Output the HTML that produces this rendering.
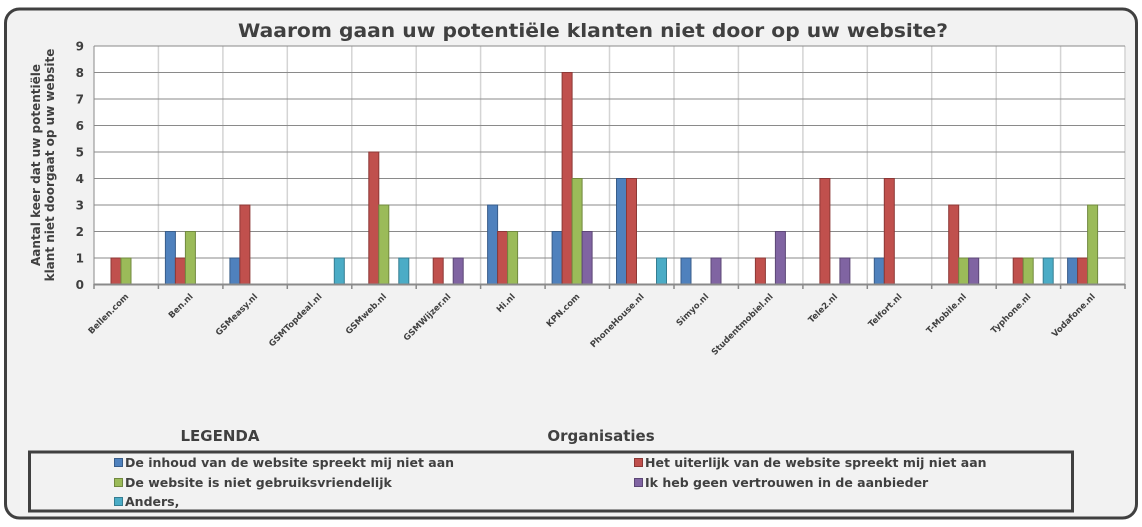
<!DOCTYPE html>
<html><head><meta charset="utf-8"><style>
html,body{margin:0;padding:0;background:#fff;}
svg{display:block;font-family:"DejaVu Sans","Liberation Sans",sans-serif;}
</style></head><body>
<svg width="1142" height="527" viewBox="0 0 1142 527" xmlns="http://www.w3.org/2000/svg">
<rect x="5.5" y="9" width="1131" height="509" rx="14" fill="#f2f2f2" stroke="#404040" stroke-width="3"/>
<text x="593" y="37" text-anchor="middle" font-size="19" font-weight="bold" fill="#404040" textLength="710" lengthAdjust="spacingAndGlyphs">Waarom gaan uw potentiële klanten niet door op uw website?</text>
<rect x="94" y="46" width="1031" height="238.5" fill="#fff"/>
<g stroke="#d4d4d4" stroke-width="1.5">
<line x1="158.4" y1="46" x2="158.4" y2="284.5"/><line x1="222.9" y1="46" x2="222.9" y2="284.5"/><line x1="287.3" y1="46" x2="287.3" y2="284.5"/><line x1="351.8" y1="46" x2="351.8" y2="284.5"/><line x1="416.2" y1="46" x2="416.2" y2="284.5"/><line x1="480.6" y1="46" x2="480.6" y2="284.5"/><line x1="545.1" y1="46" x2="545.1" y2="284.5"/><line x1="609.5" y1="46" x2="609.5" y2="284.5"/><line x1="674" y1="46" x2="674" y2="284.5"/><line x1="738.4" y1="46" x2="738.4" y2="284.5"/><line x1="802.9" y1="46" x2="802.9" y2="284.5"/><line x1="867.3" y1="46" x2="867.3" y2="284.5"/><line x1="931.7" y1="46" x2="931.7" y2="284.5"/><line x1="996.2" y1="46" x2="996.2" y2="284.5"/><line x1="1060.6" y1="46" x2="1060.6" y2="284.5"/><line x1="1125" y1="46" x2="1125" y2="284.5"/>
</g>
<g stroke="#8a8a8a" stroke-width="1">
<line x1="94" y1="46" x2="1125" y2="46"/><line x1="94" y1="72.5" x2="1125" y2="72.5"/><line x1="94" y1="99" x2="1125" y2="99"/><line x1="94" y1="125.5" x2="1125" y2="125.5"/><line x1="94" y1="152" x2="1125" y2="152"/><line x1="94" y1="178.5" x2="1125" y2="178.5"/><line x1="94" y1="205" x2="1125" y2="205"/><line x1="94" y1="231.5" x2="1125" y2="231.5"/><line x1="94" y1="258" x2="1125" y2="258"/>
</g>
<line x1="94" y1="46" x2="94" y2="284.5" stroke="#8a8a8a"/>
<g stroke-width="1">
<g fill="#4f81bd" stroke="#385d8a">
<rect x="165.4" y="231.5" width="10" height="53"/><rect x="229.9" y="258" width="10" height="26.5"/><rect x="487.6" y="205" width="10" height="79.5"/><rect x="552.1" y="231.5" width="10" height="53"/><rect x="616.5" y="178.5" width="10" height="106"/><rect x="681" y="258" width="10" height="26.5"/><rect x="874.3" y="258" width="10" height="26.5"/><rect x="1067.6" y="258" width="10" height="26.5"/>
</g>
<g fill="#c0504d" stroke="#8c3836">
<rect x="111" y="258" width="10" height="26.5"/><rect x="175.4" y="258" width="10" height="26.5"/><rect x="239.9" y="205" width="10" height="79.5"/><rect x="368.8" y="152" width="10" height="132.5"/><rect x="433.2" y="258" width="10" height="26.5"/><rect x="497.6" y="231.5" width="10" height="53"/><rect x="562.1" y="72.5" width="10" height="212"/><rect x="626.5" y="178.5" width="10" height="106"/><rect x="755.4" y="258" width="10" height="26.5"/><rect x="819.9" y="178.5" width="10" height="106"/><rect x="884.3" y="178.5" width="10" height="106"/><rect x="948.7" y="205" width="10" height="79.5"/><rect x="1013.2" y="258" width="10" height="26.5"/><rect x="1077.6" y="258" width="10" height="26.5"/>
</g>
<g fill="#9bbb59" stroke="#71893f">
<rect x="121" y="258" width="10" height="26.5"/><rect x="185.4" y="231.5" width="10" height="53"/><rect x="378.8" y="205" width="10" height="79.5"/><rect x="507.6" y="231.5" width="10" height="53"/><rect x="572.1" y="178.5" width="10" height="106"/><rect x="958.7" y="258" width="10" height="26.5"/><rect x="1023.2" y="258" width="10" height="26.5"/><rect x="1087.6" y="205" width="10" height="79.5"/>
</g>
<g fill="#8064a2" stroke="#5c4776">
<rect x="453.2" y="258" width="10" height="26.5"/><rect x="582.1" y="231.5" width="10" height="53"/><rect x="711" y="258" width="10" height="26.5"/><rect x="775.4" y="231.5" width="10" height="53"/><rect x="839.9" y="258" width="10" height="26.5"/><rect x="968.7" y="258" width="10" height="26.5"/>
</g>
<g fill="#4bacc6" stroke="#357d91">
<rect x="334.3" y="258" width="10" height="26.5"/><rect x="398.8" y="258" width="10" height="26.5"/><rect x="656.5" y="258" width="10" height="26.5"/><rect x="1043.2" y="258" width="10" height="26.5"/>
</g>
</g>
<line x1="94" y1="284.5" x2="1125" y2="284.5" stroke="#8a8a8a" stroke-width="2"/>
<g stroke="#8a8a8a" stroke-width="1.5">
<line x1="94" y1="284" x2="94" y2="289"/><line x1="158.4" y1="284" x2="158.4" y2="289"/><line x1="222.9" y1="284" x2="222.9" y2="289"/><line x1="287.3" y1="284" x2="287.3" y2="289"/><line x1="351.8" y1="284" x2="351.8" y2="289"/><line x1="416.2" y1="284" x2="416.2" y2="289"/><line x1="480.6" y1="284" x2="480.6" y2="289"/><line x1="545.1" y1="284" x2="545.1" y2="289"/><line x1="609.5" y1="284" x2="609.5" y2="289"/><line x1="674" y1="284" x2="674" y2="289"/><line x1="738.4" y1="284" x2="738.4" y2="289"/><line x1="802.9" y1="284" x2="802.9" y2="289"/><line x1="867.3" y1="284" x2="867.3" y2="289"/><line x1="931.7" y1="284" x2="931.7" y2="289"/><line x1="996.2" y1="284" x2="996.2" y2="289"/><line x1="1060.6" y1="284" x2="1060.6" y2="289"/><line x1="1125" y1="284" x2="1125" y2="289"/>
</g>
<g font-size="12" font-weight="bold" fill="#404040" text-anchor="end">
<text x="84" y="289">0</text><text x="84" y="262.5">1</text><text x="84" y="236">2</text><text x="84" y="209.5">3</text><text x="84" y="183">4</text><text x="84" y="156.5">5</text><text x="84" y="130">6</text><text x="84" y="103.5">7</text><text x="84" y="77">8</text><text x="84" y="50.5">9</text>
</g>
<g font-size="12" font-weight="bold" fill="#404040" text-anchor="middle">
<text transform="translate(40,165) rotate(-90)">Aantal keer dat uw potentiële</text>
<text transform="translate(54,165) rotate(-90)">klant niet doorgaat op uw website</text>
</g>
<g font-size="8.5" font-weight="bold" fill="#404040" text-anchor="end">
<text transform="translate(129,297) rotate(-45)">Bellen.com</text>
<text transform="translate(193.4,297) rotate(-45)">Ben.nl</text>
<text transform="translate(257.9,297) rotate(-45)">GSMeasy.nl</text>
<text transform="translate(322.3,297) rotate(-45)">GSMTopdeal.nl</text>
<text transform="translate(386.8,297) rotate(-45)">GSMweb.nl</text>
<text transform="translate(451.2,297) rotate(-45)">GSMWijzer.nl</text>
<text transform="translate(515.6,297) rotate(-45)">Hi.nl</text>
<text transform="translate(580.1,297) rotate(-45)">KPN.com</text>
<text transform="translate(644.5,297) rotate(-45)">PhoneHouse.nl</text>
<text transform="translate(709,297) rotate(-45)">Simyo.nl</text>
<text transform="translate(773.4,297) rotate(-45)">Studentmobiel.nl</text>
<text transform="translate(837.9,297) rotate(-45)">Tele2.nl</text>
<text transform="translate(902.3,297) rotate(-45)">Telfort.nl</text>
<text transform="translate(966.7,297) rotate(-45)">T-Mobile.nl</text>
<text transform="translate(1031.2,297) rotate(-45)">Typhone.nl</text>
<text transform="translate(1095.6,297) rotate(-45)">Vodafone.nl</text>
</g>
<text x="220" y="441" text-anchor="middle" font-size="15" font-weight="bold" fill="#404040">LEGENDA</text>
<text x="601" y="441" text-anchor="middle" font-size="15" font-weight="bold" fill="#404040">Organisaties</text>
<rect x="29.5" y="452" width="1043" height="59" fill="#f2f2f2" stroke="#404040" stroke-width="3"/>
<g font-size="12.5" font-weight="bold" fill="#404040">
<rect x="114.5" y="458.5" width="8" height="8" fill="#4f81bd" stroke="#385d8a"/><text x="125" y="467">De inhoud van de website spreekt mij niet aan</text>
<rect x="114.5" y="478.5" width="8" height="8" fill="#9bbb59" stroke="#71893f"/><text x="125" y="487">De website is niet gebruiksvriendelijk</text>
<rect x="114.5" y="497.5" width="8" height="8" fill="#4bacc6" stroke="#357d91"/><text x="125" y="506">Anders,</text>
<rect x="634.5" y="458.5" width="8" height="8" fill="#c0504d" stroke="#8c3836"/><text x="645" y="467">Het uiterlijk van de website spreekt mij niet aan</text>
<rect x="634.5" y="478.5" width="8" height="8" fill="#8064a2" stroke="#5c4776"/><text x="645" y="487">Ik heb geen vertrouwen in de aanbieder</text>
</g>
</svg>
</body></html>
